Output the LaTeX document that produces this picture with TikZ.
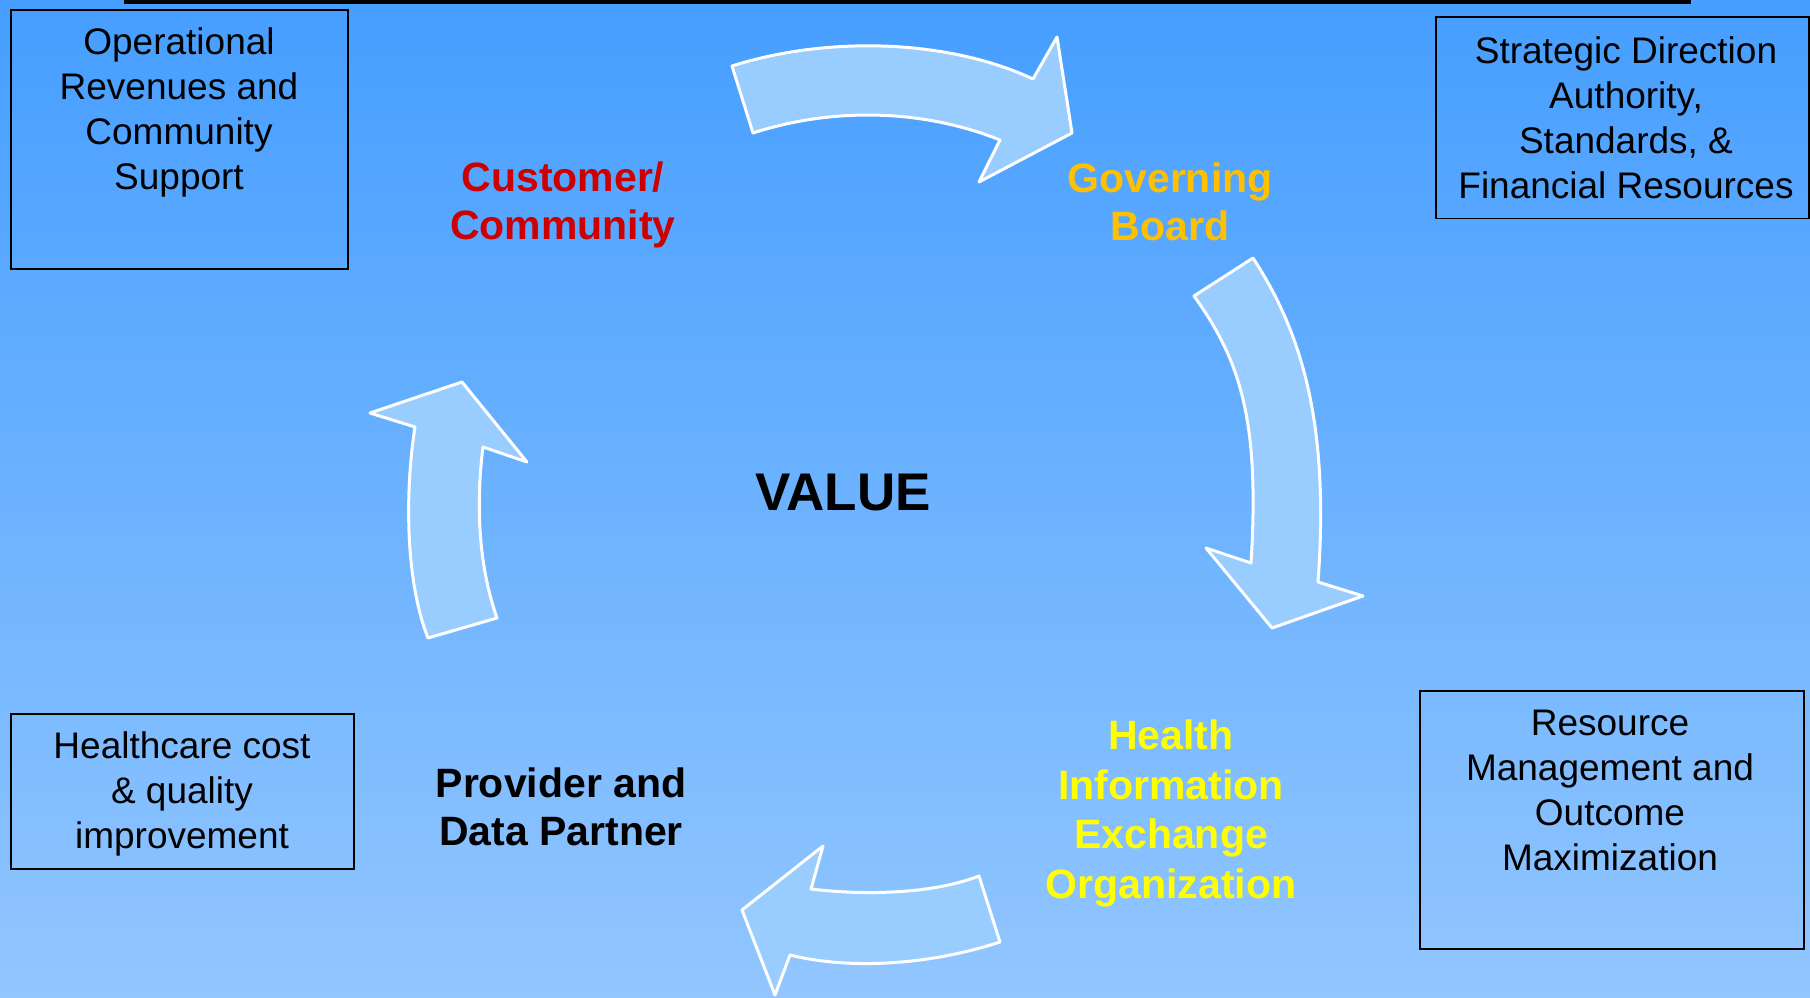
\documentclass[tikz,border=0pt]{standalone}
\usepackage{fontspec}
\setmainfont{Liberation Sans}
\definecolor{bgtop}{RGB}{70,158,255}
\definecolor{bgbot}{RGB}{146,198,255}
\definecolor{arrowfill}{RGB}{153,204,255}
\definecolor{custred}{RGB}{204,0,0}
\definecolor{govgold}{RGB}{255,192,0}
\definecolor{hieyellow}{RGB}{255,255,0}
\begin{document}
\begin{tikzpicture}[x=1pt,y=-1pt,
  infobox/.style={draw=black, line width=1.8pt, anchor=north west, inner sep=0pt},
  boxtext/.style={font=\fontsize{37}{44.7}\selectfont, align=center, anchor=base, inner sep=0pt},
  rolelabel/.style={font=\fontsize{41}{48}\selectfont\bfseries, align=center, anchor=base, inner sep=0pt},
  cyclearrow/.style={draw=white, line width=3pt, fill=arrowfill, line join=round}]
\useasboundingbox (0,0) rectangle (1810,998);
\shade[top color=bgtop, bottom color=bgbot] (0,0) rectangle (1810,998);
% top rule
\draw[line width=4pt] (124,2) -- (1691,2);
% cycle arrows
\draw[cyclearrow] (732,66) .. controls (830,35) and (950,40) .. (1033,79) -- (1057,37) -- (1072,133) -- (979,182) -- (1000,140) .. controls (920,108) and (830,108) .. (753,133) -- cycle;
\draw[cyclearrow] (1253,258) .. controls (1300,330) and (1330,420) .. (1318,582) -- (1363,596) -- (1272,628) -- (1206,548) -- (1251,563) .. controls (1260,420) and (1240,360) .. (1194,296) -- cycle;
\draw[cyclearrow] (979,876) .. controls (930,895) and (860,895) .. (811,889) -- (823,846) -- (742,910) -- (775,995) -- (790,955) .. controls (850,970) and (930,965) .. (1000,942) -- cycle;
\draw[cyclearrow] (428,638) .. controls (405,580) and (405,490) .. (415,427) -- (370,413) -- (462,382) -- (527,462) -- (483,447) .. controls (475,510) and (480,570) .. (497,618) -- cycle;
% boxes
\node[infobox, minimum width=337pt, minimum height=259pt] (boxTL) at (10,9) {};
\node[infobox, minimum width=373pt, minimum height=201pt] (boxTR) at (1435,16.5) {};
\node[infobox, minimum width=343pt, minimum height=155pt] (boxBL) at (10,713) {};
\node[infobox, minimum width=384pt, minimum height=258pt] (boxBR) at (1419,690) {};
\node[boxtext] (txtTL) at (179,189) {Operational\\Revenues and\\Community\\Support};
\node[boxtext] (txtTR) at (1626,198) {Strategic Direction\\Authority,\\Standards, \&\\Financial Resources};
\node[boxtext] (txtBL) at (182,848) {Healthcare cost\\\& quality\\improvement};
\node[boxtext] (txtBR) at (1610,870) {Resource\\Management and\\Outcome\\Maximization};
% role labels
\node[rolelabel, text=custred] (cust) at (563,239) {Customer/\\Community};
\node[rolelabel, text=govgold] (gov) at (1170,240) {Governing\\Board};
\node[rolelabel, text=hieyellow, font=\fontsize{41}{49.5}\selectfont\bfseries] (hie) at (1171,898) {Health\\Information\\Exchange\\Organization};
\node[rolelabel, text=black] (prov) at (561,845) {Provider and\\Data Partner};
\node[font=\fontsize{53}{60}\selectfont\bfseries, anchor=base, inner sep=0pt] (value) at (843,510) {VALUE};
\end{tikzpicture}
\end{document}
